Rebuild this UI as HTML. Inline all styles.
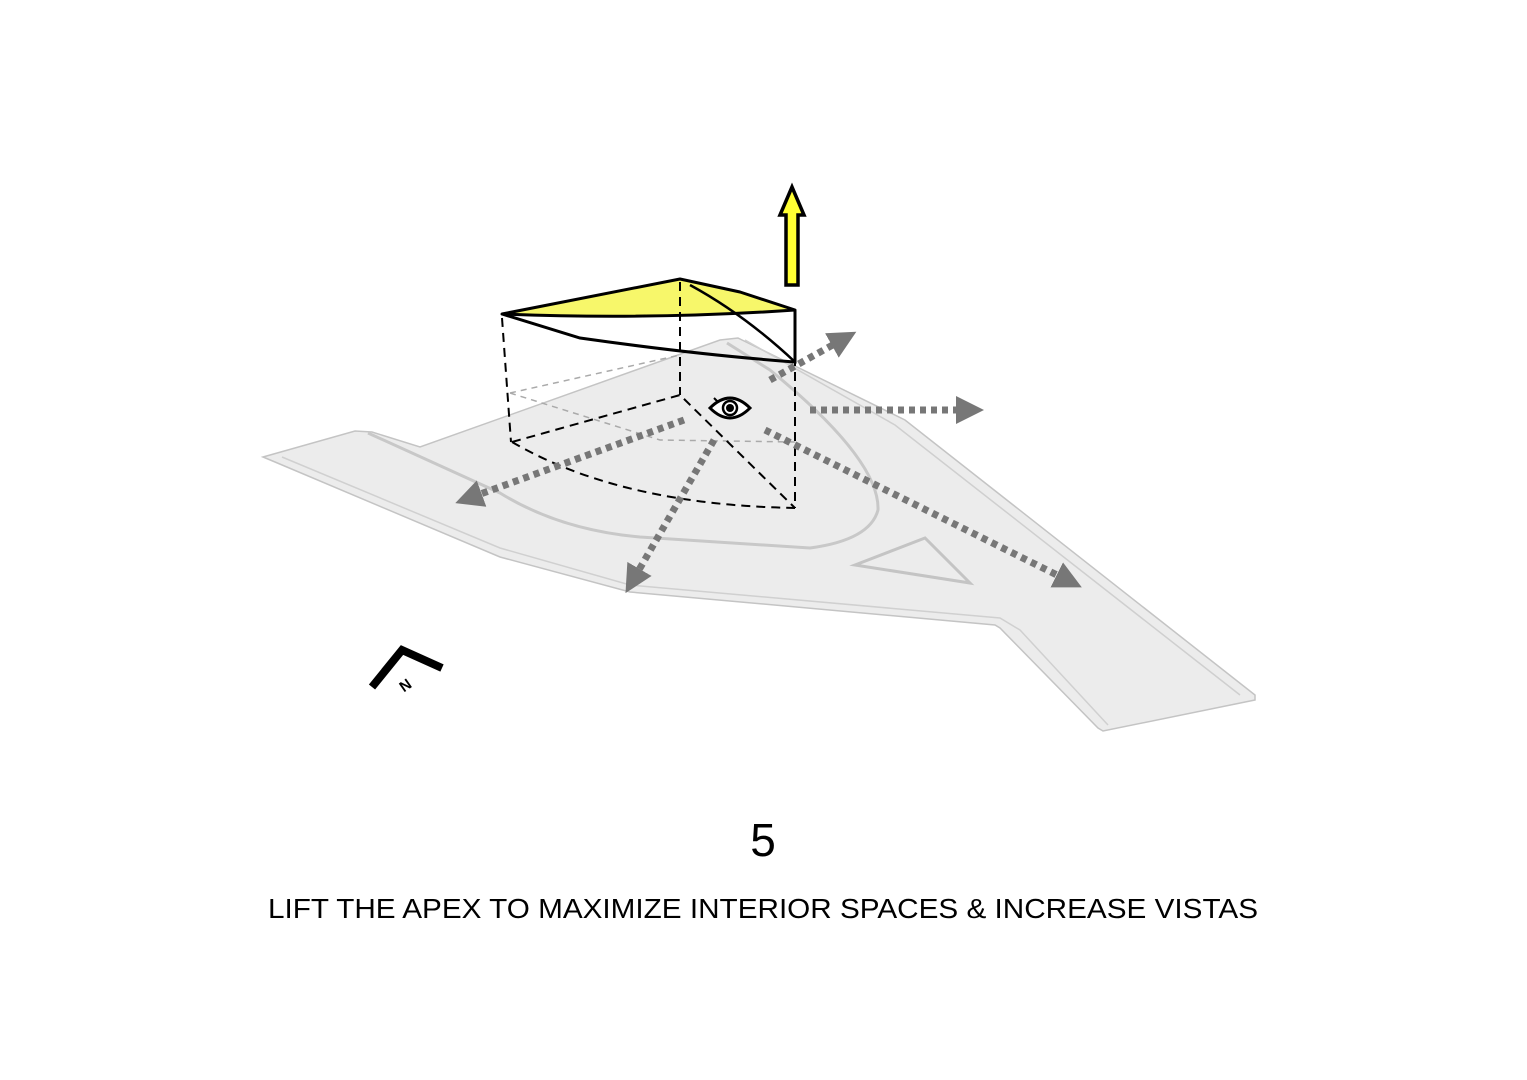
<!DOCTYPE html>
<html><head><meta charset="utf-8"><style>html,body{margin:0;padding:0;background:#fff}svg{display:block}</style></head>
<body>
<svg width="1527" height="1080" viewBox="0 0 1527 1080" xmlns="http://www.w3.org/2000/svg">
<defs>
<marker id="ah" markerWidth="4" markerHeight="4" refX="1" refY="2" orient="auto" markerUnits="strokeWidth">
<path d="M0,0 L4,2 L0,4 Z" fill="#777"/></marker>
</defs>
<path d="M263,457 L355,431 L372,432 L420,447 L720,340 L738,338 L905,420 L1255,695 L1255,700 L1103,731 L1098,728 L1000,628 L995,625 L630,592 L500,557 L275,462 Z" fill="#ececec" stroke="#c4c4c4" stroke-width="1.5"/>
<path d="M368,433 L500,493 Q560,530 640,537 L810,548 Q870,540 878,510 Q880,460 770,370 L727,343" fill="none" stroke="#c8c8c8" stroke-width="3"/>
<path d="M282,457 L500,548 L630,585 L1000,618 L1020,630 L1108,725" fill="none" stroke="#d0d0d0" stroke-width="1.5"/>
<path d="M745,340 L895,425 L1240,695" fill="none" stroke="#cfcfcf" stroke-width="1.5"/>
<path d="M855,565 L925,538 L970,583 Z" fill="none" stroke="#c4c4c4" stroke-width="3"/>
<path d="M510,393 L680,355 M510,393 L660,440 L795,442" fill="none" stroke="#aaa" stroke-width="1.5" stroke-dasharray="6 5"/>
<path d="M502,314 L680,279 L740,292 L795,310 Q650,320 502,314 Z" fill="#f7f76a" stroke="#000" stroke-width="3" stroke-linejoin="round"/>
<path d="M502,314 L580,338 Q700,355 795,362 L795,310" fill="none" stroke="#000" stroke-width="3"/>
<path d="M690,285 Q745,315 795,362" fill="none" stroke="#000" stroke-width="2.5"/>
<g fill="none" stroke="#000" stroke-width="2" stroke-dasharray="9 6">
<path d="M502,318 L511,442 M680,282 L680,395 M795,312 L795,508"/>
<path d="M512,442 L680,395 L795,508"/>
<path d="M512,442 Q620,505 795,508"/>
</g>
<g transform="translate(730,408)">
<path d="M-20,0 Q0,-20 20,0 Q0,20 -20,0 Z" fill="#fff" stroke="#000" stroke-width="3"/>
<circle r="7" fill="#fff" stroke="#000" stroke-width="2.5"/><circle r="4" fill="#000"/>
<path d="M-16,-10 L-12,-6" stroke="#000" stroke-width="2"/>
</g>
<path d="M786,285 L786,215 L780,215 L792,187 L804,215 L798,215 L798,285 Z" fill="#ffff33" stroke="#000" stroke-width="3.5" stroke-linejoin="miter"/>
<g fill="none" stroke="#777" stroke-width="7" stroke-dasharray="6 5" marker-end="url(#ah)">
<path d="M684,420 L475,496"/>
<path d="M714,440 L636,575"/>
<path d="M770,380 L838,342"/>
<path d="M810,410 L963,410"/>
<path d="M765,430 L1063,578"/>
</g>
<path d="M372,687 L402,650 L442,668" fill="none" stroke="#000" stroke-width="8" stroke-linejoin="miter"/>
<text x="398" y="690" font-family="Liberation Sans, sans-serif" font-size="15" font-weight="bold" transform="rotate(-35 405 682)">N</text>
<text x="763" y="856" text-anchor="middle" font-family="Liberation Sans, sans-serif" font-size="46">5</text>
<text x="268" y="918" textLength="990" lengthAdjust="spacingAndGlyphs" font-family="Liberation Sans, sans-serif" font-size="28">LIFT THE APEX TO MAXIMIZE INTERIOR SPACES &amp; INCREASE VISTAS</text>
</svg>
</body></html>
